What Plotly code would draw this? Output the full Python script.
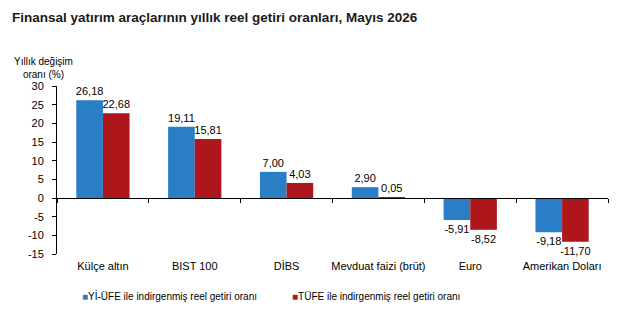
import plotly.graph_objects as go

categories = ["Külçe altın", "BIST 100", "DİBS", "Mevduat faizi (brüt)", "Euro", "Amerikan Doları"]
yiufe = [26.18, 19.11, 7.00, 2.90, -5.91, -9.18]
tufe = [22.68, 15.81, 4.03, 0.05, -8.52, -11.70]
series_names = ["Yİ-ÜFE ile indirgenmiş reel getiri oranı", "TÜFE ile indirgenmiş reel getiri oranı"]
ytick_vals = [-15, -10, -5, 0, 5, 10, 15, 20, 25, 30]

BLUE = "#2a7ec5"
RED = "#ad171c"
FONT = "Liberation Sans, Arial, sans-serif"

def fmt(v):
    return f"{v:.2f}".replace(".", ",")

x = list(range(len(categories)))
fig = go.Figure()
for vals, color, name in [(yiufe, BLUE, series_names[0]), (tufe, RED, series_names[1])]:
    fig.add_trace(go.Bar(
        x=x, y=vals, marker=dict(color=color, line=dict(width=0)),
        text=[fmt(v) for v in vals], textposition="outside", constraintext="none",
        textfont=dict(family=FONT, size=11, color="#000"), cliponaxis=False,
        showlegend=False, name=name))

# axis line at zero with tick marks between categories
fig.add_trace(go.Scatter(x=[-0.5, 5.5], y=[None, None], xaxis="x2", mode="lines",
                         showlegend=False, hoverinfo="skip"))

PL, PR, PT, PB = 57, 20, 86, 56
pw = 628 - PL - PR
ph = 310 - PT - PB

def px_x(p):
    return (p - PL) / pw

def px_y(p):
    return (310 - PB - p) / ph

legend_annots = []
for name, color, lx in [(series_names[0], BLUE, 80), (series_names[1], RED, 290)]:
    legend_annots.append(dict(
        text=f"<span style='color:{color}'>■</span>{name}", x=px_x(lx), y=px_y(296),
        xref="paper", yref="paper", showarrow=False, xanchor="left", yanchor="middle",
        font=dict(size=10, color="#000")))

fig.update_layout(
    width=628, height=310,
    margin=dict(l=PL, r=PR, t=PT, b=PB),
    paper_bgcolor="white", plot_bgcolor="white",
    barmode="group", bargap=0.42, bargroupgap=0,
    font=dict(family=FONT, size=11, color="#000"),
    title=dict(text="<b>Finansal yatırım araçlarının yıllık reel getiri oranları, Mayıs 2026</b>",
               x=12/628, xanchor="left", y=1-17/310, yanchor="middle",
               font=dict(family=FONT, size=13.5, color="#1a1a1a")),
    xaxis=dict(range=[-0.5, 5.5], tickvals=x, ticktext=categories, showline=False,
               showgrid=False, zeroline=False, ticks="", tickfont=dict(size=11),
               ticklabelstandoff=4),
    xaxis2=dict(overlaying="x", anchor="free", position=1/3, range=[-0.5, 5.5],
                tickvals=[i - 0.5 for i in range(len(categories) + 1)], showticklabels=False,
                showline=True, linecolor="#000", linewidth=1, ticks="outside", ticklen=4,
                tickcolor="#000", showgrid=False, zeroline=False),
    yaxis=dict(range=[-15, 30], tickvals=ytick_vals, ticktext=[str(v) for v in ytick_vals],
               showline=True, linecolor="#000", linewidth=1, ticks="outside", ticklen=4,
               tickcolor="#000", showgrid=False, zeroline=False, tickfont=dict(size=11),
               ticklabelstandoff=6),
    showlegend=False,
    annotations=[dict(text="Yıllık değişim<br>oranı (%)", x=px_x(43), y=px_y(68),
                      xref="paper", yref="paper", showarrow=False, align="center",
                      xanchor="center", yanchor="middle", font=dict(size=10))] + legend_annots,
)
fig.write_html("out.html")
